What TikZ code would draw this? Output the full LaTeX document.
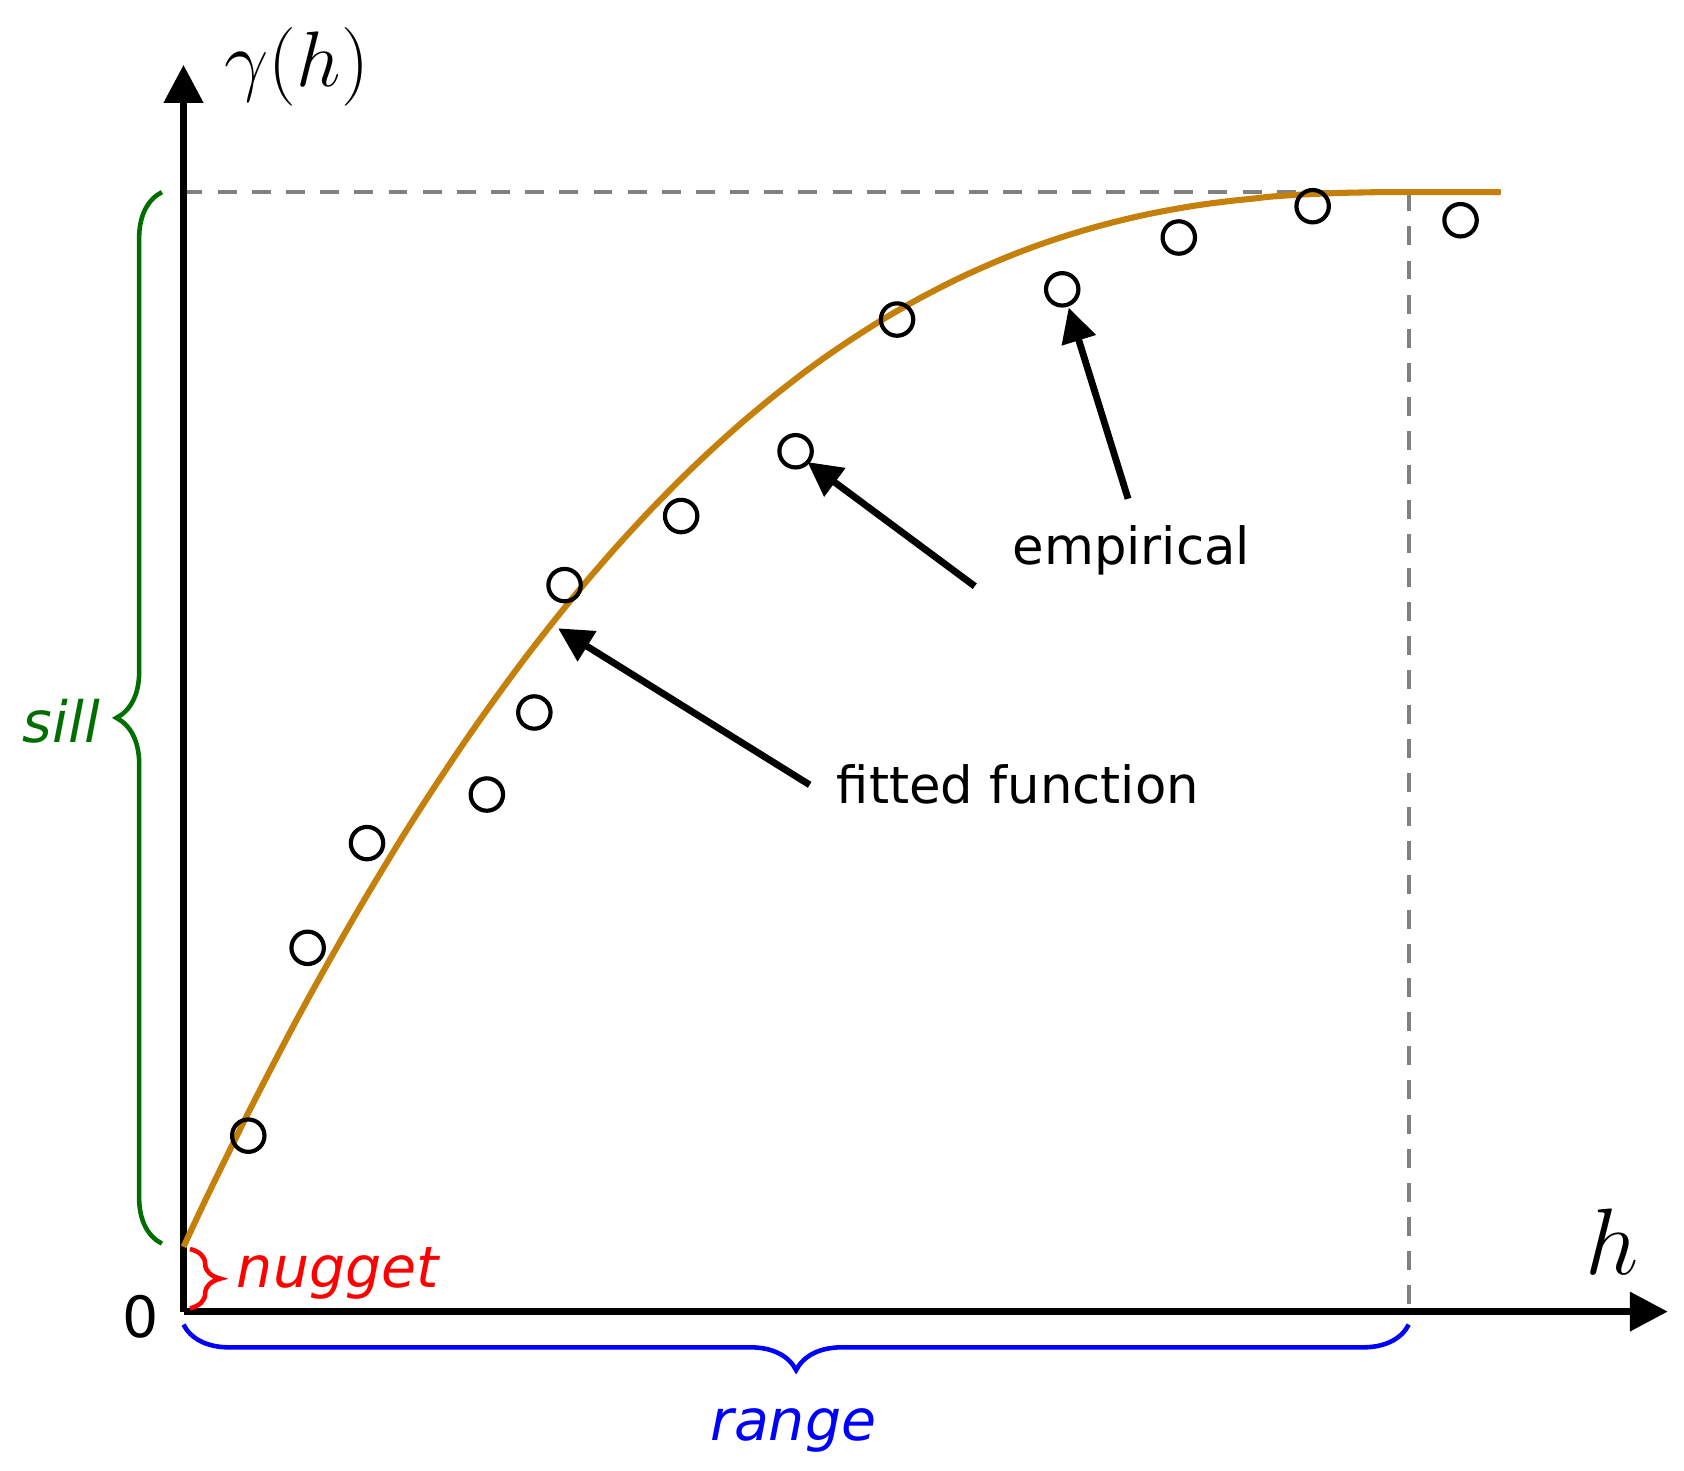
\documentclass[tikz,border=0pt]{standalone}
\usepackage{fontspec}
\setmainfont{DejaVu Sans}
\usetikzlibrary{decorations.pathreplacing,arrows.meta}
\definecolor{curvec}{RGB}{196,128,10}
\definecolor{sillc}{RGB}{0,110,0}
\begin{document}
\begin{tikzpicture}[x=0.01cm,y=-0.01cm,
  axis/.style={line width=1.9pt,-{Triangle[length=10pt,width=10pt]}},
  guide/.style={gray,line width=1.1pt,dash pattern=on 5pt off 4pt},
  pt/.style={circle,draw,line width=1.1pt,minimum size=0.3cm,inner sep=0pt},
  ann/.style={line width=1.8pt,-{Triangle[length=9pt,width=9pt]}},
  lbl/.style={font=\fontsize{13.5}{15}\selectfont},
  br/.style={line width=1.2pt,decorate,decoration={brace,amplitude=12pt}}]
\useasboundingbox (0,0) rectangle (1560,1362);
\coordinate (O) at (170,1215);
\coordinate (Ytop) at (170,60);
\coordinate (Xend) at (1545,1215);
\draw[guide] (170,178) -- (1390,178);
\draw[guide] (1305,178) -- (1305,1215);
\draw[axis] (O) -- (Ytop);
\draw[axis] (O) -- (Xend);
\draw[curvec,line width=1.6pt] plot[domain=0:1,samples=80,smooth] ({170+1135*\x},{1155-977*(1-pow(1-\x,2.5))}) -- (1390,178);
\foreach \n/\p in {a/{230,1052},b/{285,878},c/{340,781},d/{451,736},e/{495,660},f/{523,542},g/{631,478},h/{737,418},i/{831,296},j/{984,268},k/{1092,220},l/{1216,191},m/{1353,204}}
  \node[pt] (p\n) at (\p) {};
\node[lbl] (emp) at (1048,510) {empirical};
\node[lbl] (fit) at (943,727) {fitted function};
\coordinate (e1) at (903,543); \coordinate (e2) at (1045,462); \coordinate (f1) at (750,727);
\draw[ann] (e1) -- (748,428);
\draw[ann] (e2) -- (990,285);
\draw[ann] (f1) -- (517,582);
\node[font=\fontsize{22}{24}\selectfont] (gam) at (275,62) {$\gamma(h)$};
\node[font=\fontsize{24}{26}\selectfont] (hh) at (1493,1150) {$h$};
\node[font=\fontsize{15}{17}\selectfont] (zero) at (130,1220) {0};
\draw[br,sillc] (150,1152) -- (150,178);
\node[sillc,font=\fontsize{15}{17}\selectfont\itshape] (sill) at (57,668) {sill};
\draw[br,red,decoration={amplitude=8pt}] (176,1157) -- (176,1212);
\node[red,font=\fontsize{15}{17}\selectfont\itshape] (nug) at (313,1180) {nugget};
\draw[br,blue] (1305,1227) -- (170,1227);
\node[blue,font=\fontsize{15}{17}\selectfont\itshape] (rng) at (735,1325) {range};
\end{tikzpicture}
\end{document}
